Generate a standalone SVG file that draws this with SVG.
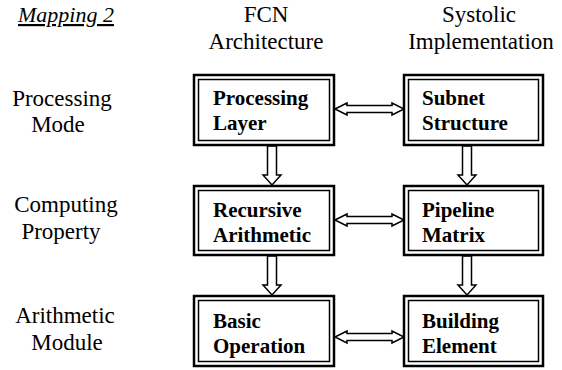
<svg xmlns="http://www.w3.org/2000/svg" width="562" height="370" viewBox="0 0 562 370">
<style>
.lbl{font-family:'Liberation Serif','Times New Roman','DejaVu Serif',serif;font-size:22px;fill:#000}
.hdr{font-family:'Liberation Serif','Times New Roman','DejaVu Serif',serif;font-size:23px;fill:#000;text-anchor:middle}
.side{font-family:'Liberation Serif','Times New Roman','DejaVu Serif',serif;font-size:23px;fill:#000;text-anchor:middle}
.bt{font-family:'Liberation Serif','Times New Roman','DejaVu Serif',serif;font-size:21px;font-weight:bold;fill:#000}
.outer{fill:#fff;stroke:#000;stroke-width:2.5}
.inner{fill:none;stroke:#000;stroke-width:1.5}
.arr{fill:#fff;stroke:#000;stroke-width:1.5;stroke-linejoin:miter}
</style>
<rect width="562" height="370" fill="#fff"/>
<g id="headers">
<text class="lbl" x="18" y="22" font-style="italic" text-decoration="underline">Mapping 2</text>
<text class="hdr" x="266" y="22">FCN</text>
<text class="hdr" x="266" y="49">Architecture</text>
<text class="hdr" x="479" y="22">Systolic</text>
<text class="hdr" x="481" y="49">Implementation</text>
</g>
<g id="side-labels">
<text class="side" x="62" y="106">Processing</text>
<text class="side" x="58" y="132">Mode</text>
<text class="side" x="66" y="212">Computing</text>
<text class="side" x="61" y="239">Property</text>
<text class="side" x="65" y="323">Arithmetic</text>
<text class="side" x="67" y="350">Module</text>
</g>
<g id="connectors">
<path class="arr" d="M335,109 L347,103 L347,105.5 L392,105.5 L392,103 L404,109 L392,115 L392,112.5 L347,112.5 L347,115 Z"/>
<path class="arr" d="M335,220 L347,214 L347,216.5 L392,216.5 L392,214 L404,220 L392,226 L392,223.5 L347,223.5 L347,226 Z"/>
<path class="arr" d="M335,337 L347,331 L347,333.5 L392,333.5 L392,331 L404,337 L392,343 L392,340.5 L347,340.5 L347,343 Z"/>
<path class="arr" d="M267.5,146 L276.5,146 L276.5,175 L281,175 L272,185 L263,175 L267.5,175 Z"/>
<path class="arr" d="M462.5,146 L471.5,146 L471.5,175 L476,175 L467,185 L458,175 L462.5,175 Z"/>
<path class="arr" d="M267.5,256 L276.5,256 L276.5,285 L281,285 L272,295 L263,285 L267.5,285 Z"/>
<path class="arr" d="M462.5,256 L471.5,256 L471.5,285 L476,285 L467,295 L458,285 L462.5,285 Z"/>
</g>
<g id="processing-layer">
<rect class="outer" x="194" y="75" width="140" height="70"/>
<rect class="inner" x="198.5" y="79.5" width="131" height="61"/>
<text class="bt" x="213" y="105">Processing</text>
<text class="bt" x="213" y="130">Layer</text>
</g>
<g id="subnet-structure">
<rect class="outer" x="404" y="75" width="139" height="70"/>
<rect class="inner" x="408.5" y="79.5" width="130" height="61"/>
<text class="bt" x="422" y="105">Subnet</text>
<text class="bt" x="422" y="130">Structure</text>
</g>
<g id="recursive-arithmetic">
<rect class="outer" x="194" y="186" width="140" height="69"/>
<rect class="inner" x="198.5" y="190.5" width="131" height="60"/>
<text class="bt" x="213" y="217">Recursive</text>
<text class="bt" x="213" y="242">Arithmetic</text>
</g>
<g id="pipeline-matrix">
<rect class="outer" x="404" y="186" width="139" height="69"/>
<rect class="inner" x="408.5" y="190.5" width="130" height="60"/>
<text class="bt" x="422" y="217">Pipeline</text>
<text class="bt" x="422" y="242">Matrix</text>
</g>
<g id="basic-operation">
<rect class="outer" x="194" y="296" width="140" height="70"/>
<rect class="inner" x="198.5" y="300.5" width="131" height="61"/>
<text class="bt" x="213" y="328">Basic</text>
<text class="bt" x="213" y="353">Operation</text>
</g>
<g id="building-element">
<rect class="outer" x="404" y="296" width="139" height="70"/>
<rect class="inner" x="408.5" y="300.5" width="130" height="61"/>
<text class="bt" x="422" y="328">Building</text>
<text class="bt" x="422" y="353">Element</text>
</g>
</svg>
